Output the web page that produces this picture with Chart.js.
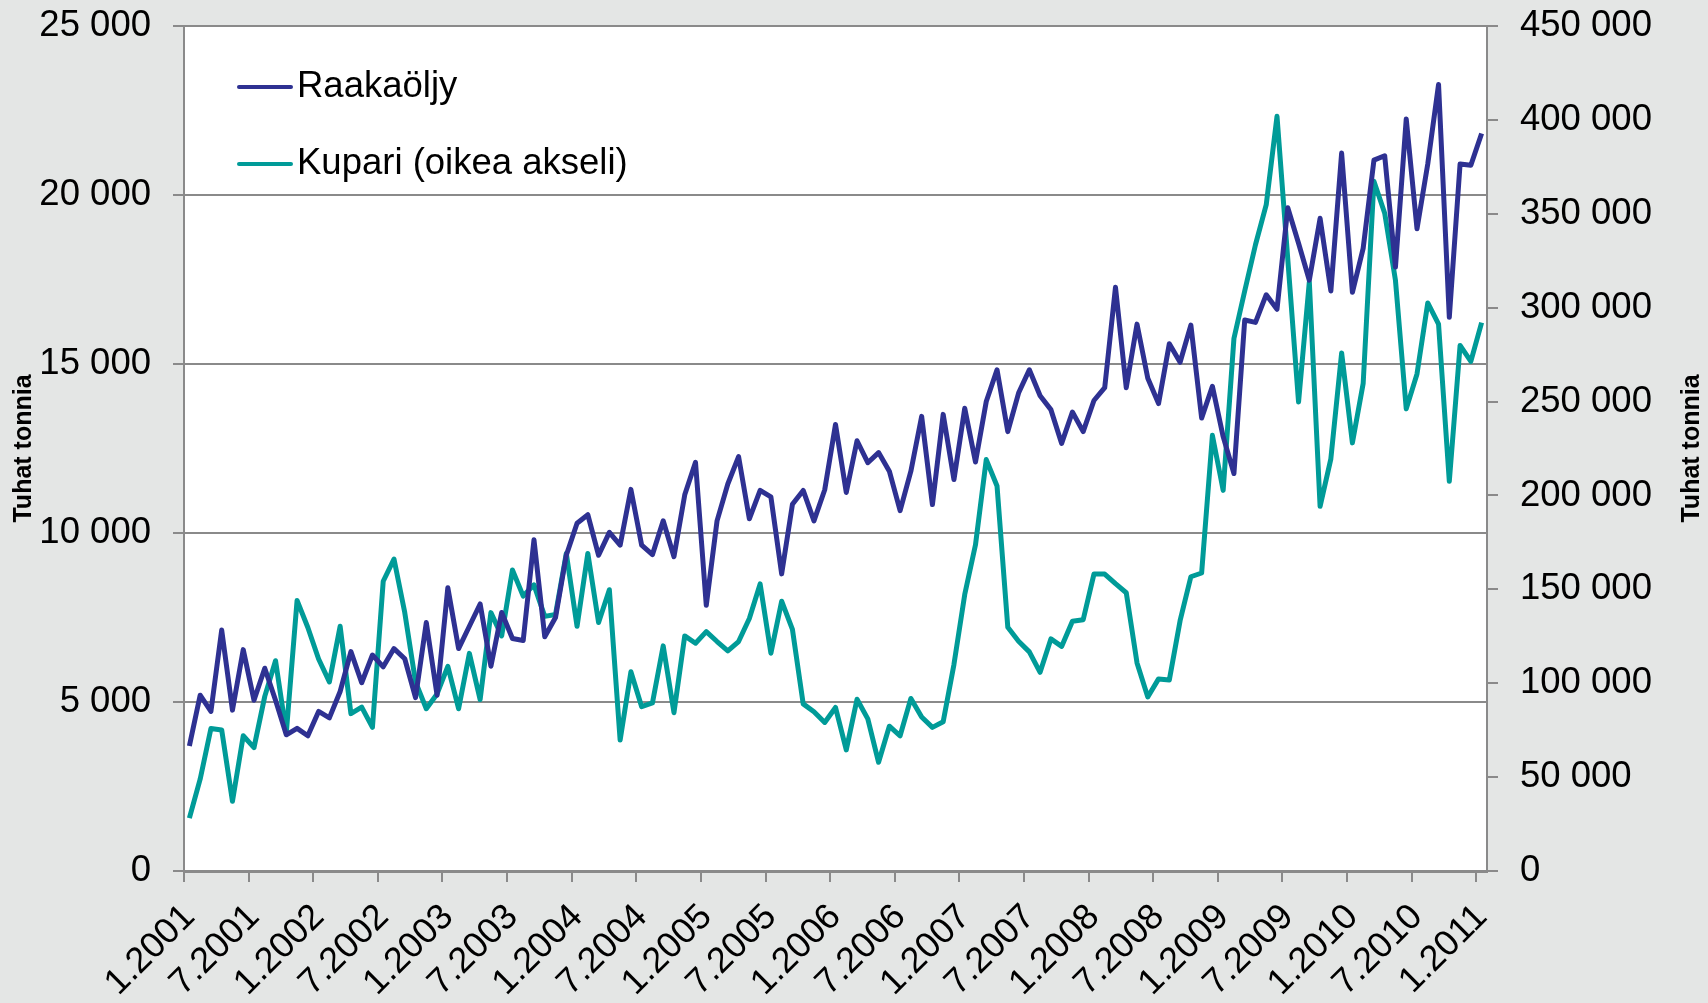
<!DOCTYPE html>
<html>
<head>
<meta charset="utf-8">
<script src="https://cdn.jsdelivr.net/npm/chart.js@4.4.1/dist/chart.umd.min.js"></script>
<style>
  html, body { margin: 0; padding: 0; background: #e4e6e5; }
  #wrap { width: 1708px; height: 1003px; position: relative; }
</style>
</head>
<body>
<div id="wrap"><canvas id="chart"></canvas></div>
<script>
// Raakaöljy (vasen akseli) ja kupari (oikea akseli), kuukausittain 1.2001–1.2011

const startYear = 2001;
const tickLabels = ['1.2001', '7.2001', '1.2002', '7.2002', '1.2003', '7.2003', '1.2004', '7.2004',
  '1.2005', '7.2005', '1.2006', '7.2006', '1.2007', '7.2007', '1.2008', '7.2008',
  '1.2009', '7.2009', '1.2010', '7.2010', '1.2011'];

const raakaoljy = [
  3700, 5200, 4720, 7130, 4760, 6550, 5050, 6000, 5050, 4030, 4220, 4000,
  4720, 4530, 5310, 6490, 5570, 6390, 6040, 6580, 6280, 5130, 7350, 5200,
  8380, 6580, 7240, 7900, 6060, 7650, 6880, 6820, 9800, 6930, 7500, 9340,
  10290, 10540, 9340, 10020, 9640, 11290, 9640, 9360, 10360, 9300, 11130, 12090,
  7860, 10360, 11450, 12260, 10420, 11260, 11070, 8790, 10850, 11260, 10360, 11280,
  13210, 11200, 12730, 12080, 12380, 11830, 10660, 11830, 13450, 10840, 13510, 11580,
  13690, 12100, 13890, 14830, 13000, 14140, 14830, 14060, 13650, 12650, 13580, 13000,
  13920, 14300, 17270, 14300, 16180, 14580, 13830, 15600, 15050, 16150, 13400, 14340,
  12850, 11760, 16300, 16230, 17050, 16620, 19620, 18570, 17480, 19310, 17160, 21240,
  17120, 18420, 21030, 21160, 17870, 22250, 19000, 20920, 23270, 16380, 20920, 20880,
  21820
];

const kupari = [
  28200, 48900, 75900, 75100, 37100, 72000, 65700, 93000, 112000, 73600, 144100, 129700,
  112900, 100700, 130300, 83800, 87300, 76500, 154300, 166100, 137600, 100700, 86400, 94300,
  109000, 86400, 115900, 91300, 137600, 125200, 160300, 146400, 152400, 135600, 136600, 169100,
  130300, 169100, 132300, 149800, 69700, 106100, 87500, 89500, 119900, 84300, 125200, 121300,
  127500, 122200, 117200, 122200, 134500, 152900, 116000, 143700, 128700, 89000, 84800, 79100,
  87100, 64500, 91500, 81000, 57900, 77100, 72000, 91900, 82000, 76500, 79500, 110000,
  147200, 173700, 219100, 205000, 129800, 122400, 116700, 105800, 123600, 119600, 133000, 133800,
  158100, 158100, 153000, 148200, 110800, 92700, 102300, 101700, 133300, 156700, 158700, 232000,
  202700, 283600, 308900, 333500, 354900, 401900, 325800, 249700, 313700, 194200, 219500, 275900,
  228000, 259600, 367300, 350300, 314500, 246100, 264700, 302500, 291200, 207500, 279900, 271400,
  292000
];

// kuukausikategoriat "k.vvvv"
const kuukaudet = raakaoljy.map((_, i) => `${(i % 12) + 1}.${startYear + Math.floor(i / 12)}`);

const FONT = "'Liberation Sans', Arial, sans-serif";
const GRID = '#8a8a8a';

function tuhaterotin(v) {
  return String(v).replace(/\B(?=(\d{3})+(?!\d))/g, ' ');
}

// pystyakselit: kiinteä leveys, ei ylimääräistä reunusta ylä- ja alapuolelle
function pystyLeveys(w) {
  return s => {
    s.width = w;
    s.paddingTop = 0;
    s.paddingBottom = 0;
  };
}

// tausta, selite ja akselien otsikot
const koristeet = {
  id: 'koristeet',
  beforeDraw(chart) {
    const { ctx, chartArea: a } = chart;
    ctx.save();
    ctx.fillStyle = '#e4e6e5';
    ctx.fillRect(0, 0, chart.width, chart.height);
    ctx.fillStyle = '#ffffff';
    ctx.fillRect(a.left, a.top, a.right - a.left, a.bottom - a.top);
    ctx.restore();
  },
  afterDraw(chart) {
    const { ctx, chartArea: a } = chart;
    ctx.save();
    // selite
    chart.data.datasets.forEach((ds, i) => {
      const y = 87 + i * 77;
      ctx.strokeStyle = ds.borderColor;
      ctx.lineWidth = 4;
      ctx.lineCap = 'round';
      ctx.beginPath();
      ctx.moveTo(239, y);
      ctx.lineTo(291, y);
      ctx.stroke();
      ctx.fillStyle = '#000';
      ctx.font = `36.5px ${FONT}`;
      ctx.textBaseline = 'middle';
      ctx.textAlign = 'left';
      ctx.fillText(ds.label, 297, y);
    });
    // akselien otsikot
    ctx.font = `bold 25px ${FONT}`;
    ctx.textAlign = 'center';
    ctx.textBaseline = 'middle';
    const cy = (a.top + a.bottom) / 2;
    [24, 1692].forEach(x => {
      ctx.save();
      ctx.translate(x, cy);
      ctx.rotate(-Math.PI / 2);
      ctx.fillText('Tuhat tonnia', 0, 0);
      ctx.restore();
    });
    ctx.restore();
  }
};

new Chart(document.getElementById('chart'), {
  type: 'line',
  data: {
    labels: kuukaudet,
    datasets: [
      {
        label: 'Raakaöljy',
        data: raakaoljy,
        yAxisID: 'y',
        borderColor: '#2e3192',
        borderWidth: 5,
        pointRadius: 0,
        tension: 0,
        borderJoinStyle: 'round'
      },
      {
        label: 'Kupari (oikea akseli)',
        data: kupari,
        yAxisID: 'y2',
        borderColor: '#009b98',
        borderWidth: 5,
        pointRadius: 0,
        tension: 0,
        borderJoinStyle: 'round'
      }
    ]
  },
  options: {
    responsive: true,
    maintainAspectRatio: false,
    animation: false,
    devicePixelRatio: 1,
    layout: { padding: { top: 26, left: 0, right: 0, bottom: 0 } },
    plugins: {
      legend: { display: false },
      tooltip: { enabled: false }
    },
    scales: {
      x: {
        type: 'category',
        offset: true,
        afterFit: s => { s.height = 132; },
        grid: {
          offset: true,
          drawOnChartArea: false,
          tickLength: 11,
          lineWidth: 2,
          color: ctx => (ctx.index % 6 === 0 ? GRID : 'rgba(0,0,0,0)')
        },
        border: { color: GRID, width: 3 },
        ticks: {
          autoSkip: false,
          minRotation: 45,
          maxRotation: 45,
          padding: 14,
          color: '#000',
          font: { family: FONT, size: 36 },
          callback: (v, i) => (i % 6 === 0 ? tickLabels[i / 6] : '')
        }
      },
      y: {
        position: 'left',
        min: 0,
        max: 25000,
        afterFit: pystyLeveys(184),
        grid: { color: GRID, lineWidth: 2, tickLength: 11 },
        border: { color: GRID, width: 2 },
        ticks: {
          stepSize: 5000,
          padding: 22,
          color: '#000',
          font: { family: FONT, size: 36.5 },
          callback: v => tuhaterotin(v)
        }
      },
      y2: {
        position: 'right',
        min: 0,
        max: 450000,
        afterFit: pystyLeveys(221),
        grid: { drawOnChartArea: false, color: GRID, lineWidth: 2, tickLength: 11 },
        border: { color: GRID, width: 2 },
        ticks: {
          stepSize: 50000,
          padding: 22,
          color: '#000',
          font: { family: FONT, size: 36.5 },
          callback: v => tuhaterotin(v)
        }
      }
    }
  },
  plugins: [koristeet]
});
</script>
</body>
</html>
